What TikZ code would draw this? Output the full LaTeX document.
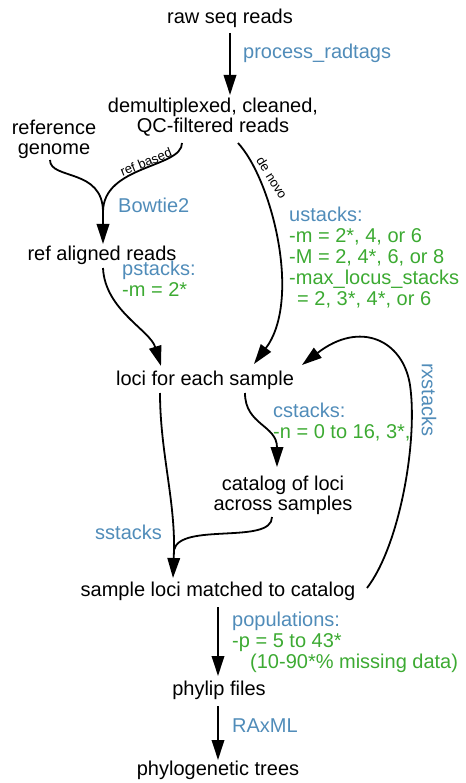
\documentclass[tikz,border=0pt]{standalone}
\usepackage{fontspec}
\setmainfont{Liberation Sans}
\usetikzlibrary{arrows.meta,calc}
\definecolor{toolblue}{RGB}{80,140,185}
\definecolor{optgreen}{RGB}{60,170,50}
\begin{document}
\begin{tikzpicture}[x=1pt,y=-1pt,
  lbl/.style={font=\fontsize{20}{20}\selectfont, align=center, inner sep=0pt},
  tool/.style={font=\fontsize{20}{21}\selectfont, text=toolblue, inner sep=0pt, anchor=west},
  opt/.style={font=\fontsize{20}{21}\selectfont, text=optgreen, align=left, inner sep=0pt, anchor=north west},
  small/.style={font=\fontsize{13}{13}\selectfont, inner sep=0pt},
  conn/.style={line width=1.8pt, -{Triangle[length=20pt,width=12.5pt]}},
  link/.style={line width=1.8pt}]
\useasboundingbox (0,0) rectangle (465,783);

% main nodes
\node[lbl] (raw) at (230,18) {raw seq reads};
\node[lbl] (demux) at (213,117) {demultiplexed, cleaned,\\QC-filtered reads};
\node[lbl] (refgen) at (54,139) {reference\\genome};
\node[lbl] (refal) at (102,255) {ref aligned reads};
\node[lbl] (loci) at (205,380) {loci for each sample};
\node[lbl] (catalog) at (283,495) {catalog of loci\\across samples};
\node[lbl] (matched) at (218,591) {sample loci matched to catalog};
\node[lbl] (phylip) at (219,690) {phylip files};
\node[lbl] (trees) at (218,770) {phylogenetic trees};

% tool labels
\node[tool] (tprocess) at (243,53) {process\_radtags};
\node[tool] (tbowtie) at (118,205) {Bowtie2};
\node[opt] (tpstacks) at (122,261) {\textcolor{toolblue}{pstacks:}\\-m = 2*};
\node[opt] (tustacks) at (289,207) {\textcolor{toolblue}{ustacks:}\\-m = 2*, 4, or 6\\-M = 2, 4*, 6, or 8\\-max\_locus\_stacks\\\hspace*{0.4em}= 2, 3*, 4*, or 6};
\node[opt] (tcstacks) at (273,403) {\textcolor{toolblue}{cstacks:}\\-n = 0 to 16, 3*,};
\node[tool] (tsstacks) at (95,532) {sstacks};
\node[tool, anchor=center, rotate=-90] (trxstacks) at (429,400) {rxstacks};
\node[opt] (tpop) at (232,612) {\textcolor{toolblue}{populations:}\\-p = 5 to 43*\\\hspace*{18pt}(10-90*\% missing data)};
\node[tool] (traxml) at (232,726) {RAxML};

% small path labels
\node[small, rotate=22] (lrefbased) at (146,162) {ref based};
\node[small, rotate=-58] (ldenovo) at (272,178) {de novo};

% merge points
\coordinate (mref) at (103,212);
\coordinate (msst) at (174,550);

% connectors
\draw[conn] ($(raw)+(0,15)$) -- ($(demux)+(17,-22)$);
\draw[link] ($(refgen)+(-4,21)$) .. controls (50,180) and (103,168) .. (mref);
\draw[link] ($(demux)+(-31,26)$) .. controls (182,168) and (103,165) .. (mref);
\draw[conn] (mref) -- ($(refal)+(1,-11)$);
\draw[conn] ($(refal)+(1,13)$) .. controls (105,310) and (150,330) .. ($(loci)+(-44,-14)$);
\draw[conn] ($(demux)+(25,26)$) .. controls (272,180) and (302,300) .. ($(loci)+(49,-16)$);
\draw[conn] ($(loci)+(40,13)$) .. controls (245,425) and (277,425) .. ($(catalog)+(-6,-28)$);
\draw[link] ($(loci)+(-45,13)$) .. controls (160,450) and (175,500) .. (msst);
\draw[link] ($(catalog)+(-11,22)$) .. controls (272,545) and (180,522) .. (msst);
\draw[conn] (msst) -- ($(matched)+(-45,-13)$);
\draw[conn] ($(matched)+(149,-3)$) .. controls (400,545) and (418,440) .. (410,385)
  .. controls (403,340) and (360,320) .. ($(loci)+(97,-15)$);
\draw[conn] ($(matched)+(0,16)$) -- ($(phylip)+(-1,-14)$);
\draw[conn] ($(phylip)+(-1,16)$) -- ($(trees)+(0,-10)$);
\end{tikzpicture}
\end{document}
